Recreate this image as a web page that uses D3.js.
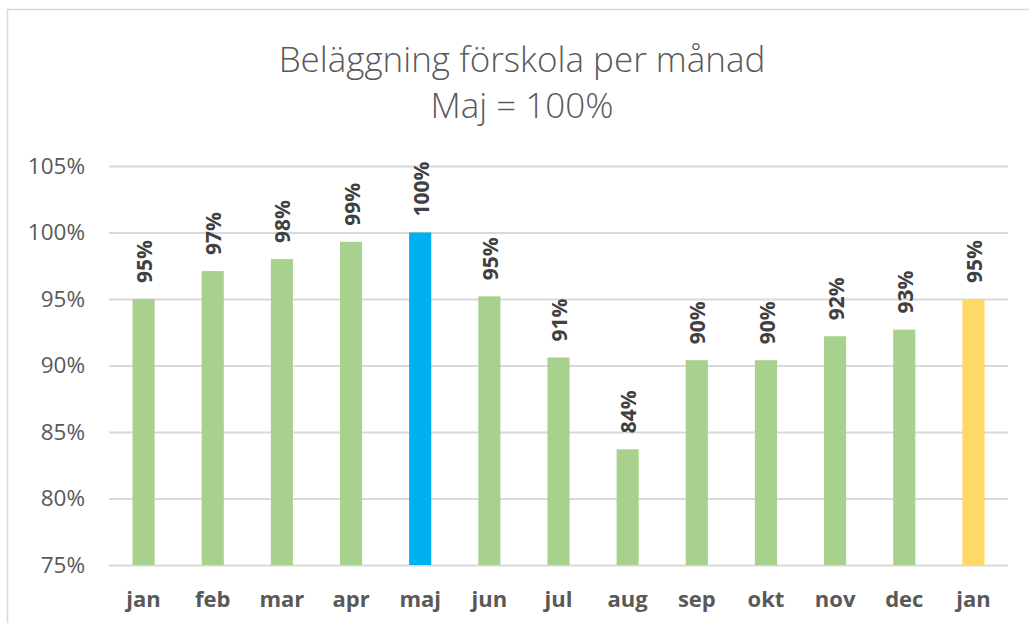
<!DOCTYPE html>
<html>
<head>
<meta charset="utf-8">
<script src="https://cdn.jsdelivr.net/npm/d3@7"></script>
<style>
  body { margin: 0; background: #fff; }
  text { font-family: "Open Sans", sans-serif; }
</style>
</head>
<body>
<div id="chart"></div>
<script>
// data
var months = ["jan", "feb", "mar", "apr", "maj", "jun", "jul", "aug", "sep", "okt", "nov", "dec", "jan"];
var values = [0.950, 0.971, 0.980, 0.993, 1.000, 0.952, 0.906, 0.837, 0.904, 0.904, 0.922, 0.927, 0.950];
var barColors = ["#A9D18E", "#A9D18E", "#A9D18E", "#A9D18E", "#00B0F0", "#A9D18E", "#A9D18E",
                 "#A9D18E", "#A9D18E", "#A9D18E", "#A9D18E", "#A9D18E", "#FFD966"];
var yTicks = [0.75, 0.80, 0.85, 0.90, 0.95, 1.00, 1.05];
var titleLines = ["Beläggning förskola per månad", "Maj = 100%"];

var width = 1029, height = 623;
var margin = {top: 166, right: 21, bottom: 58, left: 109};

var svg = d3.select("#chart").append("svg")
    .attr("width", width)
    .attr("height", height);

// chart frame (only top and left edge visible in the crop)
svg.append("path")
    .attr("d", "M7.5," + height + "V9.5H" + width)
    .attr("fill", "none")
    .attr("stroke", "#d9d9d9")
    .attr("stroke-width", 1.5);

var data = months.map(function(m, i) {
    return {key: i, month: m, value: values[i], color: barColors[i]};
});

var x = d3.scaleBand()
    .domain(data.map(function(d) { return d.key; }))
    .range([margin.left, width - margin.right])
    .paddingInner(0.68)
    .paddingOuter(0.34);

var y = d3.scaleLinear()
    .domain([0.75, 1.05])
    .range([height - margin.bottom, margin.top]);

var pct = d3.format(".0%");

// title
svg.append("g").selectAll("text")
    .data(titleLines)
    .enter().append("text")
    .attr("x", 522)
    .attr("y", function(d, i) { return 72 + i * 46; })
    .attr("text-anchor", "middle")
    .attr("font-size", 35)
    .attr("font-weight", 300)
    .attr("fill", "#595959")
    .text(function(d) { return d; });

// gridlines + y labels
var yAxis = d3.axisLeft(y)
    .tickValues(yTicks)
    .tickSize(-(width - margin.left - margin.right))
    .tickPadding(24)
    .tickFormat(pct);

var gy = svg.append("g")
    .attr("transform", "translate(" + margin.left + ",0)")
    .call(yAxis);
gy.select(".domain").remove();
gy.selectAll(".tick line")
    .attr("stroke", "#d9d9d9")
    .attr("stroke-width", 2);
gy.selectAll(".tick text")
    .attr("font-size", 22.5)
    .attr("fill", "#595959")
    .attr("font-family", "Open Sans, sans-serif");

// bars
svg.append("g").selectAll("rect")
    .data(data)
    .enter().append("rect")
    .attr("x", function(d) { return x(d.key); })
    .attr("width", x.bandwidth())
    .attr("y", function(d) { return y(d.value); })
    .attr("height", function(d) { return y(0.75) - y(d.value); })
    .attr("fill", function(d) { return d.color; });

// value labels, rotated
svg.append("g").selectAll("text")
    .data(data)
    .enter().append("text")
    .attr("transform", function(d) {
        return "translate(" + (x(d.key) + x.bandwidth() / 2 + 1) + "," + (y(d.value) - 16) + ") rotate(-90)";
    })
    .attr("dy", "0.36em")
    .attr("text-anchor", "start")
    .attr("font-size", 21)
    .attr("font-weight", 700)
    .attr("fill", "#404040")
    .text(function(d) { return pct(d.value); });

// x axis month labels
var xAxis = d3.axisBottom(x)
    .tickSize(0)
    .tickPadding(26)
    .tickFormat(function(k) { return months[k]; });

var gx = svg.append("g")
    .attr("transform", "translate(0," + (height - margin.bottom) + ")")
    .call(xAxis);
gx.select(".domain").remove();
gx.selectAll(".tick text")
    .attr("font-size", 22)
    .attr("font-weight", 700)
    .attr("fill", "#595959")
    .attr("font-family", "Open Sans, sans-serif");
</script>
</body>
</html>
